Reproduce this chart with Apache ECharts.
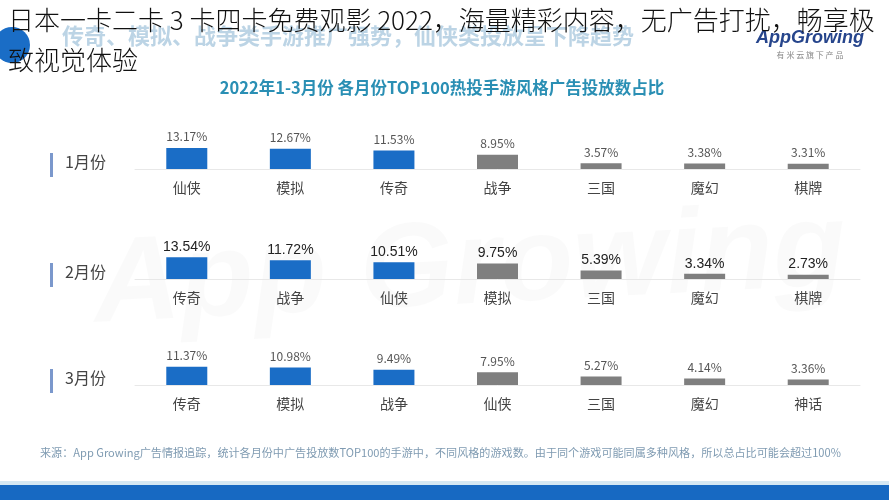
<!DOCTYPE html>
<html>
<head>
<meta charset="utf-8">
<script src="https://cdn.jsdelivr.net/npm/echarts@6/dist/echarts.min.js"></script>
<style>
html,body{margin:0;padding:0;background:#fff}
#main{width:889px;height:500px}
</style>
</head>
<body>
<div id="main"></div>
<script>
// 各月份 TOP100 手游风格占比
var monthNames = ['1月份', '2月份', '3月份'];
var janStyles = ['仙侠', '模拟', '传奇', '战争', '三国', '魔幻', '棋牌'];
var janValues = [13.17, 12.67, 11.53, 8.95, 3.57, 3.38, 3.31];
var febStyles = ['传奇', '战争', '仙侠', '模拟', '三国', '魔幻', '棋牌'];
var febValues = [13.54, 11.72, 10.51, 9.75, 5.39, 3.34, 2.73];
var marStyles = ['传奇', '模拟', '战争', '仙侠', '三国', '魔幻', '神话'];
var marValues = [11.37, 10.98, 9.49, 7.95, 5.27, 4.14, 3.36];

var rowStyles = [janStyles, febStyles, marStyles];
var rowValues = [janValues, febValues, marValues];

var axisY = [169, 279, 385];   // 每行横轴位置
var rowH = 40;
var cjk = '"Noto Sans CJK SC", "Microsoft YaHei", sans-serif';

var chart = echarts.init(document.getElementById('main'));

var grids = [], xAxes = [], yAxes = [], series = [], graphics = [];

rowStyles.forEach(function (cats, i) {
    grids.push({left: 135, width: 725, top: axisY[i] - rowH, height: rowH});
    xAxes.push({
        type: 'category',
        gridIndex: i,
        data: cats,
        axisLine: {lineStyle: {color: '#e8e8e8', width: 1}},
        axisTick: {show: false},
        axisLabel: {margin: 12, fontSize: 14, color: '#444', fontFamily: cjk}
    });
    yAxes.push({type: 'value', gridIndex: i, min: 0, max: 25, show: false});
    var isFeb = i === 1;
    series.push({
        type: 'bar',
        xAxisIndex: i,
        yAxisIndex: i,
        barWidth: 41,
        data: rowValues[i],
        itemStyle: {
            color: function (p) {
                return p.dataIndex < 3 ? '#1a6dc6' : '#7f7f7f';
            }
        },
        label: {
            show: true,
            position: 'top',
            distance: isFeb ? 3 : 5,
            fontSize: isFeb ? 14 : 12,
            color: isFeb ? '#222' : '#555',
            fontFamily: isFeb ? '"Liberation Sans", Arial, sans-serif' : cjk,
            formatter: function (p) { return p.value.toFixed(2) + '%'; }
        }
    });
    // 月份标签和左侧竖线
    graphics.push({
        type: 'rect',
        shape: {x: 50, y: axisY[i] - 16, width: 3, height: 24},
        style: {fill: '#7b98cc'}
    });
    graphics.push({
        type: 'text',
        x: 65,
        y: axisY[i] - 7,
        style: {
            text: monthNames[i], fontSize: 16, fill: '#444', fontFamily: cjk,
            textVerticalAlign: 'middle'
        }
    });
});

// 背景水印
graphics.push({
    type: 'text', x: 470, y: 270, rotation: 0.05, z: -10,
    style: {
        text: 'App Growing', fontSize: 120, fontStyle: 'italic', fontWeight: 'bold',
        fill: 'rgba(0,0,0,0.018)', textAlign: 'center', textVerticalAlign: 'middle',
        fontFamily: '"Liberation Sans", sans-serif'
    }
});
// 左上角圆点
graphics.push({type: 'circle', shape: {cx: 12, cy: 45, r: 18}, style: {fill: '#1a6dc6'}});
// 副标题(被遮挡, 颜色很淡)
graphics.push({
    type: 'text', x: 62, y: 36,
    style: {
        text: '传奇、模拟、战争类手游推广强势，仙侠类投放呈下降趋势', fontSize: 22,
        fontWeight: 'bold', fill: '#bcd4e5', fontFamily: cjk, textVerticalAlign: 'middle'
    }
});
// logo
graphics.push({
    type: 'text', x: 810, y: 38,
    style: {
        text: 'AppGrowing', fontSize: 18, fontStyle: 'italic', fontWeight: 'bold',
        fill: '#26458c', textAlign: 'center', textVerticalAlign: 'middle',
        fontFamily: '"Liberation Sans", sans-serif'
    }
});
graphics.push({
    type: 'text', x: 810, y: 55,
    style: {
        text: '有 米 云 旗 下 产 品', fontSize: 8, fill: '#888', textAlign: 'center',
        textVerticalAlign: 'middle', fontFamily: cjk
    }
});
// 标题
graphics.push({
    type: 'text', x: 442, y: 88,
    style: {
        text: '2022年1-3月份 各月份TOP100热投手游风格广告投放数占比', fontSize: 16.5,
        fontWeight: 'bold', fill: '#2a8fb4', textAlign: 'center', textVerticalAlign: 'middle',
        fontFamily: cjk
    }
});
// 来源
graphics.push({
    type: 'text', x: 40, y: 453,
    style: {
        text: '来源：App Growing广告情报追踪，统计各月份中广告投放数TOP100的手游中，不同风格的游戏数。由于同个游戏可能同属多种风格，所以总占比可能会超过100%',
        fontSize: 11.1, fill: '#7f9bb2', textVerticalAlign: 'middle', fontFamily: cjk
    }
});
// 底部色带
graphics.push({type: 'rect', shape: {x: 0, y: 481, width: 889, height: 4}, style: {fill: '#d5e8f3'}});
graphics.push({type: 'rect', shape: {x: 0, y: 485, width: 889, height: 15}, style: {fill: '#1769c2'}});
// 顶部覆盖文字
graphics.push({
    type: 'text', x: 8, y: 20, z: 100,
    style: {
        text: '日本一卡二卡 3 卡四卡免费观影 2022，海量精彩内容，无广告打扰，畅享极',
        fontSize: 26, fontWeight: 300, fill: '#111', textVerticalAlign: 'middle', fontFamily: cjk
    }
});
graphics.push({
    type: 'text', x: 8, y: 60, z: 100,
    style: {
        text: '致视觉体验', fontSize: 26, fontWeight: 300, fill: '#111',
        textVerticalAlign: 'middle', fontFamily: cjk
    }
});

var option = {
    backgroundColor: '#fff',
    animation: false,
    grid: grids,
    xAxis: xAxes,
    yAxis: yAxes,
    series: series,
    graphic: graphics
};
chart.setOption(option);
window.addEventListener('resize', function () {
    chart.resize();
});
</script>
</body>
</html>
